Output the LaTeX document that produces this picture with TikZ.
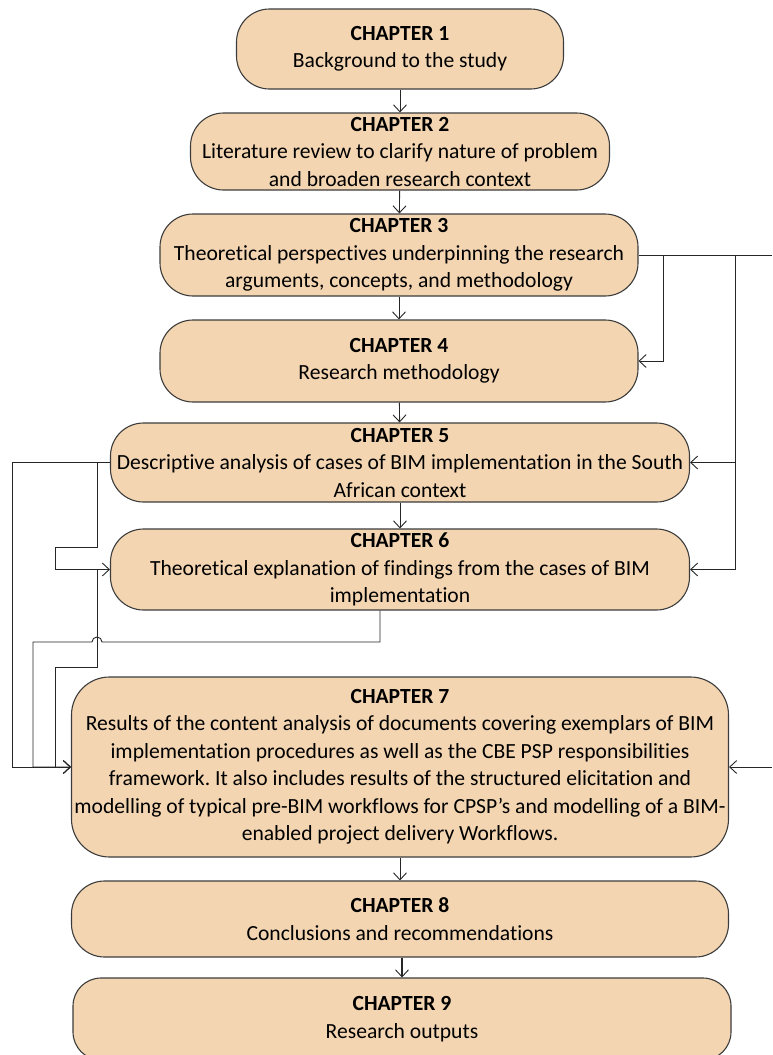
\documentclass[tikz,border=0pt]{standalone}
\usepackage{fontspec}
\setmainfont{Carlito}[Ligatures=CommonOff]
\frenchspacing
\usetikzlibrary{arrows.meta}
\definecolor{boxfill}{HTML}{F3D5B1}
\definecolor{boxline}{HTML}{3C3C3C}
\definecolor{wire}{HTML}{262626}
\tikzset{
  chapter/.style={draw=boxline, line width=1.1pt, fill=boxfill, rounded corners=#1,
    inner sep=0pt, align=center, font=\fontsize{21.6}{27.5}\selectfont},
  chapter/.default=33pt,
  flow/.style={draw=wire, line width=0.9pt,
    -{Straight Barb[length=7pt,width=13pt,line width=0.9pt]}},
  link/.style={draw=wire, line width=0.9pt},
}
\newcommand{\chap}[1]{\textbf{CHAPTER #1}}
\begin{document}
\begin{tikzpicture}[x=1pt,y=-1pt]
\useasboundingbox (0,0) rectangle (772,1055);
\begin{scope}
\clip (0,0) rectangle (772,1055);

% chapter boxes
\node[chapter, minimum width=327pt, minimum height=80pt] (c1) at (400,49)
  {\chap{1}\\Background to the study};
\node[chapter, minimum width=419pt, minimum height=77pt] (c2) at (400,151.5)
  {\chap{2}\\Literature review to clarify nature of problem\\and broaden research context};
\node[chapter, minimum width=478pt, minimum height=82pt] (c3) at (399,255)
  {\chap{3}\\Theoretical perspectives underpinning the research\\arguments, concepts, and methodology};
\node[chapter, minimum width=478pt, minimum height=82pt] (c4) at (399,361)
  {\chap{4}\\Research methodology};
\node[chapter, minimum width=579pt, minimum height=79pt] (c5) at (400,462.5)
  {\chap{5}\\Descriptive analysis of cases of BIM implementation in the South\\African context};
\node[chapter, minimum width=579pt, minimum height=81pt] (c6) at (400,569.5)
  {\chap{6}\\Theoretical explanation of findings from the cases of BIM\\implementation};
\node[chapter=38pt, minimum width=657pt, minimum height=180pt] (c7) at (400,767)
  {\chap{7}\\Results of the content analysis of documents covering exemplars of BIM\\implementation procedures as well as the CBE PSP responsibilities\\framework. It also includes results of the structured elicitation and\\modelling of typical pre-BIM workflows for CPSP’s and modelling of a BIM-\\enabled project delivery Workflows.};
\node[chapter, minimum width=657pt, minimum height=76pt] (c8) at (400,919)
  {\chap{8}\\Conclusions and recommendations};
\node[chapter=28pt, minimum width=658pt, minimum height=82pt] (c9) at (402,1019)
  {\chap{9}\\Research outputs};

% main sequence
\draw[flow] (c1) -- (c2);
\draw[flow] (c2) -- (c3);
\draw[flow] (c3) -- (c4);
\draw[flow] (c4) -- (c5);
\draw[flow] (c5) -- (c6);
\draw[flow] (c7.south) -- (c8.north);
\draw[flow, line width=1.3pt] (c8.south -| 402,0) -- (c9.north -| 402,0);

% feedback from chapter 3 on the right
\coordinate (r3) at (772,255);
\coordinate (ra) at (663,255);
\coordinate (rb) at (735,255);
\coordinate (r7) at (772,767);
\draw[link] (c3.east) -- (r3);
\draw[flow] (ra) |- (c4.east);
\draw[flow] (rb) |- (c5.east);
\draw[flow] (rb) |- (c6.east);
\draw[flow] (r7) -- (c7.east);

% links on the left into chapters 6 and 7
\coordinate (l5) at (12,462.5);
\draw[flow] (c5.west) -- (l5) |- (c7.west);
\draw[flow] (c5.west) -| (97,547) -- (55,547) |- (c6.west);
\draw[flow] (97,569.5) -- (97,667) -- (55,667) |- (c7.west);
\coordinate (d6) at ([xshift=-20pt]c6.south);
\draw[flow] (d6) -- (380,642) -- (102,642)
  arc[start angle=0, end angle=-180, radius=5] -- (33,642) |- (c7.west);
\end{scope}
\end{tikzpicture}
\end{document}
